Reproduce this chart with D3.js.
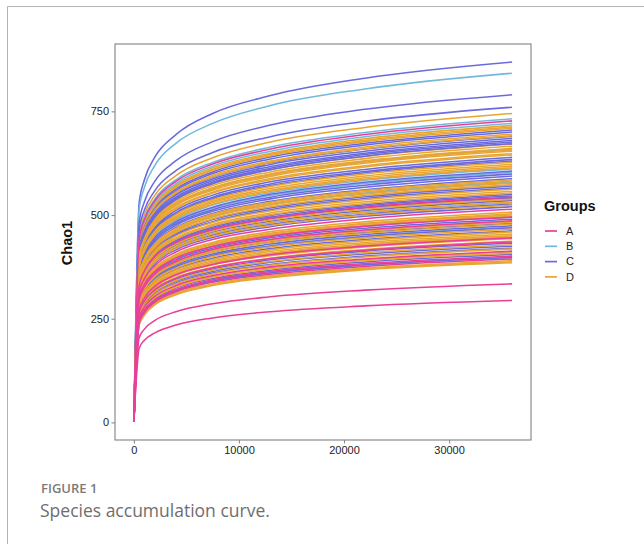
<!DOCTYPE html>
<html>
<head>
<meta charset="utf-8">
<script src="https://cdn.jsdelivr.net/npm/d3@7"></script>
<style>
  html, body { margin: 0; padding: 0; background: #fff; }
  svg { display: block; }
</style>
</head>
<body>
<svg id="chart" width="644" height="544"></svg>
<script>
// Sequencing depths at which Chao1 was computed
const depths = [1, 500, 1000, 2000, 4000, 7500, 13000, 22000, 36000];

// Chao1 rarefaction values per sample (one row per sample, one value per depth)
const groupA = [
  [1, 443, 489, 535, 581, 623, 659, 694, 727],
  [1, 331, 365, 400, 434, 465, 492, 519, 543],
  [1, 314, 346, 378, 411, 441, 466, 491, 514],
  [1, 302, 333, 364, 396, 424, 449, 473, 495],
  [1, 296, 327, 358, 388, 417, 441, 464, 486],
  [1, 271, 300, 328, 356, 381, 404, 425, 445],
  [1, 265, 293, 320, 348, 373, 395, 415, 435],
  [1, 252, 278, 304, 330, 354, 375, 394, 413],
  [1, 245, 270, 295, 320, 344, 364, 383, 401],
  [1, 240, 265, 290, 315, 338, 357, 376, 394],
  [1, 204, 225, 246, 267, 286, 303, 319, 334],
  [1, 179, 198, 216, 235, 252, 267, 281, 294]
];
const groupB = [
  [1, 514, 567, 620, 673, 721, 764, 804, 842],
  [1, 447, 493, 539, 585, 627, 664, 699, 732],
  [1, 440, 485, 531, 576, 618, 654, 689, 721],
  [1, 402, 444, 485, 527, 565, 598, 629, 659],
  [1, 373, 411, 450, 488, 524, 554, 584, 611],
  [1, 368, 406, 444, 482, 517, 547, 576, 603],
  [1, 353, 390, 426, 463, 496, 525, 553, 579],
  [1, 323, 357, 390, 424, 454, 481, 506, 530],
  [1, 287, 316, 346, 376, 403, 426, 449, 470],
  [1, 242, 267, 292, 317, 340, 360, 379, 397]
];
const groupC = [
  [1, 530, 585, 640, 694, 745, 788, 830, 869],
  [1, 482, 532, 582, 631, 677, 717, 755, 790],
  [1, 464, 512, 559, 607, 651, 689, 726, 760],
  [1, 430, 475, 519, 563, 604, 640, 673, 705],
  [1, 427, 471, 515, 559, 600, 635, 669, 700],
  [1, 421, 464, 508, 551, 591, 626, 659, 690],
  [1, 418, 461, 504, 548, 587, 622, 654, 685],
  [1, 415, 458, 500, 543, 583, 617, 649, 680],
  [1, 412, 455, 498, 540, 579, 613, 646, 676],
  [1, 410, 452, 495, 537, 576, 609, 642, 672],
  [1, 390, 430, 470, 511, 548, 580, 610, 639],
  [1, 387, 427, 467, 506, 543, 575, 605, 634],
  [1, 384, 424, 464, 503, 540, 571, 602, 630],
  [1, 370, 408, 446, 484, 519, 550, 579, 606],
  [1, 365, 403, 441, 479, 513, 543, 572, 599],
  [1, 362, 400, 437, 475, 509, 539, 567, 594],
  [1, 359, 396, 433, 470, 504, 533, 561, 588],
  [1, 348, 384, 420, 455, 489, 517, 544, 570],
  [1, 345, 380, 416, 452, 484, 513, 540, 565],
  [1, 336, 370, 405, 439, 471, 499, 525, 550],
  [1, 333, 368, 402, 436, 468, 495, 522, 546],
  [1, 330, 364, 398, 432, 464, 491, 517, 541],
  [1, 326, 360, 394, 428, 459, 485, 511, 535],
  [1, 321, 354, 387, 420, 451, 477, 502, 526],
  [1, 317, 350, 383, 416, 446, 472, 497, 520],
  [1, 302, 333, 364, 396, 424, 449, 473, 495],
  [1, 299, 330, 361, 392, 420, 445, 468, 490],
  [1, 293, 323, 353, 383, 411, 435, 458, 480],
  [1, 289, 319, 349, 379, 406, 430, 453, 474],
  [1, 286, 316, 345, 375, 402, 425, 448, 469],
  [1, 282, 311, 340, 369, 396, 419, 441, 462],
  [1, 264, 291, 318, 345, 370, 392, 413, 432],
  [1, 259, 286, 313, 340, 364, 386, 406, 425],
  [1, 256, 283, 309, 336, 360, 381, 401, 420],
  [1, 247, 273, 298, 324, 347, 367, 387, 405],
  [1, 243, 268, 293, 318, 341, 361, 380, 398]
];
const groupD = [
  [1, 454, 501, 548, 595, 638, 676, 711, 745],
  [1, 437, 482, 527, 572, 614, 649, 684, 716],
  [1, 434, 479, 524, 569, 610, 646, 680, 712],
  [1, 432, 477, 522, 567, 608, 643, 677, 709],
  [1, 424, 468, 512, 555, 596, 630, 664, 695],
  [1, 422, 465, 509, 552, 592, 627, 660, 691],
  [1, 409, 452, 494, 536, 575, 609, 641, 671],
  [1, 406, 448, 490, 532, 571, 604, 636, 666],
  [1, 403, 445, 486, 528, 566, 599, 631, 661],
  [1, 401, 442, 484, 525, 563, 596, 628, 657],
  [1, 399, 440, 481, 523, 560, 593, 625, 654],
  [1, 395, 436, 477, 518, 555, 588, 619, 648],
  [1, 393, 434, 475, 515, 553, 585, 616, 645],
  [1, 382, 422, 461, 501, 537, 569, 599, 627],
  [1, 379, 419, 458, 497, 533, 564, 594, 622],
  [1, 377, 416, 455, 494, 530, 560, 590, 618],
  [1, 375, 413, 452, 491, 526, 557, 586, 614],
  [1, 357, 394, 431, 468, 502, 531, 559, 585],
  [1, 355, 392, 428, 465, 499, 528, 556, 582],
  [1, 352, 388, 425, 461, 495, 524, 551, 577],
  [1, 350, 386, 422, 458, 491, 520, 547, 573],
  [1, 343, 378, 414, 449, 482, 510, 537, 562],
  [1, 340, 375, 410, 445, 477, 505, 532, 557],
  [1, 337, 372, 407, 442, 474, 501, 528, 553],
  [1, 328, 362, 396, 430, 461, 488, 514, 538],
  [1, 324, 357, 391, 424, 455, 482, 507, 531],
  [1, 320, 353, 386, 419, 449, 475, 500, 524],
  [1, 309, 341, 373, 405, 434, 460, 484, 507],
  [1, 307, 339, 370, 402, 431, 456, 480, 503],
  [1, 305, 337, 368, 400, 429, 454, 478, 500],
  [1, 303, 335, 366, 397, 426, 451, 475, 497],
  [1, 296, 327, 358, 388, 417, 441, 464, 486],
  [1, 295, 325, 355, 386, 414, 438, 461, 483],
  [1, 292, 322, 352, 382, 410, 434, 456, 478],
  [1, 284, 314, 343, 372, 400, 423, 445, 466],
  [1, 280, 309, 338, 367, 393, 416, 438, 459],
  [1, 277, 306, 334, 363, 389, 412, 434, 454],
  [1, 274, 303, 331, 360, 386, 408, 430, 450],
  [1, 273, 301, 329, 357, 383, 406, 427, 447],
  [1, 270, 298, 326, 354, 380, 402, 423, 443],
  [1, 267, 294, 322, 349, 374, 396, 417, 437],
  [1, 261, 288, 315, 342, 367, 388, 409, 428],
  [1, 255, 281, 308, 334, 358, 379, 399, 418],
  [1, 251, 277, 302, 328, 352, 373, 392, 411],
  [1, 249, 275, 300, 326, 350, 370, 390, 408],
  [1, 238, 262, 287, 312, 334, 354, 372, 390],
  [1, 236, 260, 285, 309, 332, 351, 370, 387],
  [1, 235, 259, 284, 308, 330, 349, 368, 385]
];

const groupNames = ["A", "B", "C", "D"];
const groupColors = ["#e8409a", "#72b8dd", "#6a6ade", "#e8a534"];
const xTicks = [0, 10000, 20000, 30000];
const yTicks = [0, 250, 500, 750];

// Long table of samples: C, D and B interleaved, group A drawn last
const groupRows = { A: groupA, B: groupB, C: groupC, D: groupD };
const mixedOrder = ["C", "D", "B"];
const toSample = (g, row) => ({ group: g, points: row.map((v, k) => ({ depth: depths[k], chao1: v })) });
const samples = [];
const maxRows = d3.max(mixedOrder, g => groupRows[g].length);
for (let i = 0; i < maxRows; i++) {
  mixedOrder.forEach(g => {
    const row = groupRows[g][i];
    if (row) samples.push(toSample(g, row));
  });
}
groupA.forEach(row => samples.push(toSample("A", row)));

const svg = d3.select("#chart");

// Outer figure frame
svg.append("path")
  .attr("d", "M7.5,544 V6.5 H644")
  .attr("fill", "none")
  .attr("stroke", "#b4b4b4")
  .attr("stroke-width", 1);

const panel = { left: 115, top: 44, width: 416, height: 396 };

// Scales padded by 5% of the data range on each side
const xMax = d3.max(depths), xMin = 0;
const xPad = (xMax - xMin) * 0.05;
const allVals = samples.flatMap(s => s.points.map(p => p.chao1));
const yMin = d3.min(allVals), yMax = d3.max(allVals);
const yPad = (yMax - yMin) * 0.05;

const x = d3.scaleLinear()
  .domain([xMin - xPad, xMax + xPad])
  .range([panel.left, panel.left + panel.width]);
const y = d3.scaleLinear()
  .domain([yMin - yPad, yMax + yPad])
  .range([panel.top + panel.height, panel.top]);

const color = d3.scaleOrdinal().domain(groupNames).range(groupColors);

// Curves
const line = d3.line()
  .x(d => x(d.depth))
  .y(d => y(d.chao1))
  .curve(d3.curveMonotoneX);

svg.append("clipPath").attr("id", "panel-clip")
  .append("rect")
  .attr("x", panel.left).attr("y", panel.top)
  .attr("width", panel.width).attr("height", panel.height);

svg.append("g")
  .attr("clip-path", "url(#panel-clip)")
  .selectAll("path")
  .data(samples)
  .join("path")
  .attr("d", d => line(d.points))
  .attr("fill", "none")
  .attr("stroke", d => color(d.group))
  .attr("stroke-width", 1.55)
  .attr("stroke-linejoin", "round")
  .attr("stroke-linecap", "butt");

// Panel border
svg.append("rect")
  .attr("x", panel.left).attr("y", panel.top)
  .attr("width", panel.width).attr("height", panel.height)
  .attr("fill", "none")
  .attr("stroke", "#8c8c8c")
  .attr("stroke-width", 1.2);

// Axes
const axisFont = "'Liberation Sans', Arial, Helvetica, sans-serif";

const xAxis = svg.append("g")
  .attr("transform", `translate(0,${panel.top + panel.height})`)
  .call(d3.axisBottom(x).tickValues(xTicks).tickFormat(d3.format("d")).tickSize(3.5).tickPadding(2.5));
const yAxis = svg.append("g")
  .attr("transform", `translate(${panel.left},0)`)
  .call(d3.axisLeft(y).tickValues(yTicks).tickFormat(d3.format("d")).tickSize(3.5).tickPadding(2.5));

[xAxis, yAxis].forEach(a => {
  a.select(".domain").remove();
  a.selectAll(".tick line").attr("stroke", "#8c8c8c").attr("stroke-width", 1.1);
  a.selectAll(".tick text")
    .attr("fill", "#222")
    .style("font-family", axisFont)
    .style("font-size", "11px");
});

// Y axis title
svg.append("text")
  .attr("transform", "translate(72,243) rotate(-90)")
  .attr("text-anchor", "middle")
  .style("font-family", axisFont)
  .style("font-size", "14.5px")
  .style("font-weight", "bold")
  .attr("fill", "#111")
  .text("Chao1");

// Legend
const legend = svg.append("g").attr("transform", "translate(544,0)");
legend.append("text")
  .attr("x", 0).attr("y", 211)
  .style("font-family", axisFont)
  .style("font-size", "14.5px")
  .style("font-weight", "bold")
  .attr("fill", "#111")
  .text("Groups");

const keys = legend.selectAll("g.key")
  .data(groupNames)
  .join("g")
  .attr("class", "key")
  .attr("transform", (d, i) => `translate(0,${231 + i * 15.3})`);
keys.append("line")
  .attr("x1", 1).attr("x2", 13)
  .attr("y1", 0).attr("y2", 0)
  .attr("stroke", d => color(d))
  .attr("stroke-width", 1.7);
keys.append("text")
  .attr("x", 22).attr("y", 0)
  .attr("dy", "0.35em")
  .style("font-family", axisFont)
  .style("font-size", "11px")
  .attr("fill", "#222")
  .text(d => d);

// Caption
svg.append("text")
  .attr("x", 41).attr("y", 493)
  .style("font-family", "'Open Sans', 'Noto Sans', sans-serif")
  .style("font-size", "13px")
  .style("font-weight", "600")
  .attr("fill", "#7a7a7a")
  .text("FIGURE 1");
svg.append("text")
  .attr("x", 40).attr("y", 517)
  .style("font-family", "'Open Sans', 'Noto Sans', sans-serif")
  .style("font-size", "17.5px")
  .attr("fill", "#6e6e6e")
  .text("Species accumulation curve.");
</script>
</body>
</html>
